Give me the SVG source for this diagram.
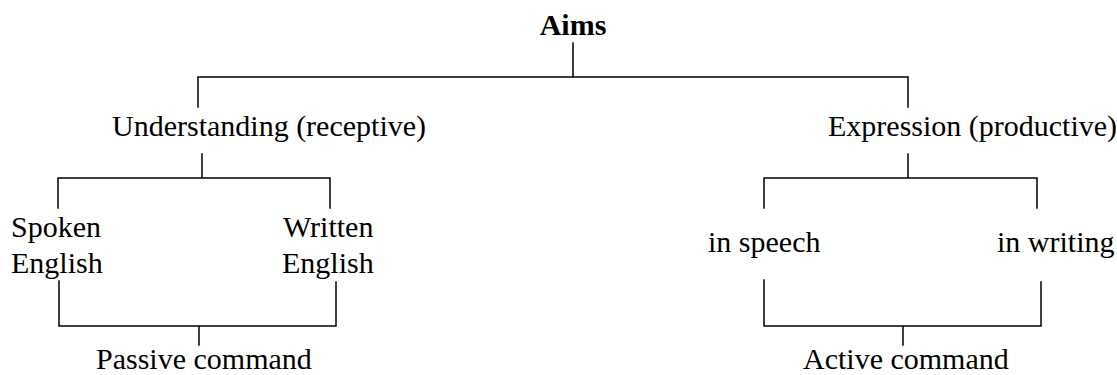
<svg xmlns="http://www.w3.org/2000/svg" width="1117" height="375" viewBox="0 0 1117 375">
<style>
text{font-family:"Liberation Serif","Times New Roman",serif;font-size:30px;fill:#000}
.b{font-weight:bold}
.c{stroke:#000;stroke-width:1.5;fill:none;stroke-linecap:square}
</style>
<rect width="1117" height="375" fill="#fff"/>
<g id="connectors" class="c">
<path d="M573 43V77M198 107V77H908V107"/>
<path d="M202 154V178M58 208V178H330V208"/>
<path d="M59 281V326H336V282M199 326V345"/>
<path d="M908 154V178M764 208V178H1037V208"/>
<path d="M764 280V326H1041V282M903 326V345"/>
</g>
<g id="aims"><text class="b" x="573" y="35" text-anchor="middle">Aims</text></g>
<g id="understanding"><text x="112" y="136">Understanding (receptive)</text></g>
<g id="expression"><text x="828" y="136">Expression (productive)</text></g>
<g id="spoken"><text x="11" y="237">Spoken</text><text x="11" y="273">English</text></g>
<g id="written"><text x="283" y="237">Written</text><text x="282" y="273">English</text></g>
<g id="speech"><text x="708" y="252">in speech</text></g>
<g id="writing"><text x="997" y="252">in writing</text></g>
<g id="passive"><text x="96" y="369">Passive command</text></g>
<g id="active"><text x="803" y="369">Active command</text></g>
</svg>
